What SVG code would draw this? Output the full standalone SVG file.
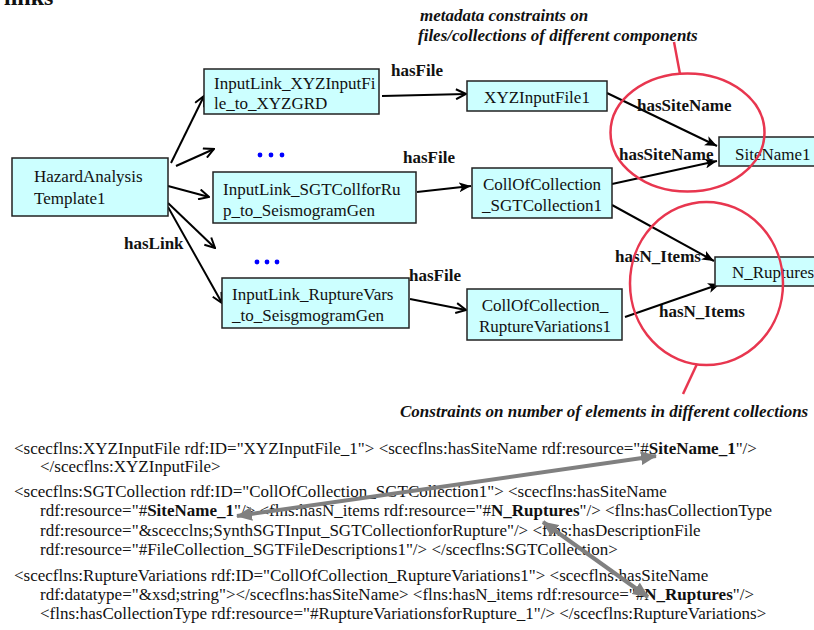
<svg xmlns="http://www.w3.org/2000/svg" width="814" height="630" viewBox="0 0 814 630">
<style>
.box{fill:#CCFFFF;stroke:#222;stroke-width:1.5}
.nt{font-family:"Liberation Serif","Times New Roman",serif;font-size:17px;fill:#111}
.lbl{font-family:"Liberation Serif","Times New Roman",serif;font-size:17px;font-weight:bold;fill:#111}
.ann{font-family:"Liberation Serif","Times New Roman",serif;font-size:17px;font-weight:bold;font-style:italic;fill:#111}
.xml{font-family:"Liberation Serif","Times New Roman",serif;font-size:17px;fill:#111}
.c{stroke:#000;stroke-width:2;fill:none}
.co{stroke:#000;stroke-width:2;fill:none;marker-end:url(#open)}
.cf{stroke:#000;stroke-width:2;fill:none;marker-end:url(#filled)}
.red{stroke:#E8364F;stroke-width:2.5;fill:none}
.gray{stroke:#808080;stroke-width:4;fill:none;marker-start:url(#grayhead);marker-end:url(#grayhead)}
</style>
<defs>
<marker id="open" viewBox="0 0 12 12" refX="11" refY="6" markerWidth="12" markerHeight="12" markerUnits="userSpaceOnUse" orient="auto">
<path d="M1,1 L11,6 L1,11" fill="none" stroke="#000" stroke-width="2"/>
</marker>
<marker id="filled" viewBox="0 0 12 10" refX="12" refY="5" markerWidth="12" markerHeight="10" markerUnits="userSpaceOnUse" orient="auto">
<path d="M0,0 L12,5 L0,10 L3,5 Z" fill="#000"/>
</marker>
<marker id="grayhead" viewBox="0 0 16 14" refX="15" refY="7" markerWidth="16" markerHeight="14" markerUnits="userSpaceOnUse" orient="auto-start-reverse">
<path d="M0,0 L16,7 L0,14 Z" fill="#808080"/>
</marker>
</defs>
<rect width="814" height="630" fill="#fff"/>

<text x="4" y="5" font-family="Liberation Serif, serif" font-size="24" font-weight="bold" fill="#111">links</text>

<g id="connectors">
<line class="co" x1="171" y1="163" x2="204" y2="96"/>
<line class="co" x1="176" y1="166" x2="214" y2="149"/>
<line class="co" x1="168" y1="186" x2="209" y2="197"/>
<line class="co" x1="168" y1="203" x2="215" y2="248"/>
<line class="co" x1="168" y1="207" x2="222" y2="303"/>
<line class="co" x1="382" y1="96" x2="466" y2="94"/>
<line class="cf" x1="417" y1="192" x2="471" y2="186"/>
<line class="co" x1="410" y1="299" x2="466" y2="310"/>
<line class="cf" x1="607" y1="93" x2="717" y2="146"/>
<line class="cf" x1="612" y1="184" x2="717" y2="161"/>
<line class="cf" x1="612" y1="205" x2="714" y2="261"/>
<line class="cf" x1="625" y1="317" x2="720" y2="284"/>
<text class="lbl" x="124" y="249">hasLink</text>
<text class="lbl" x="391" y="76">hasFile</text>
<text class="lbl" x="403" y="163">hasFile</text>
<text class="lbl" x="409" y="281">hasFile</text>
<text class="lbl" x="637" y="111">hasSiteName</text>
<text class="lbl" x="619" y="160">hasSiteName</text>
<text class="lbl" x="615" y="262">hasN_Items</text>
<text class="lbl" x="659" y="317">hasN_Items</text>
</g>

<g id="dots1" fill="#0000FF"><circle cx="260" cy="155" r="2.4"/><circle cx="271" cy="155" r="2.4"/><circle cx="282" cy="155" r="2.4"/></g>
<g id="dots2" fill="#0000FF"><circle cx="257" cy="262" r="2.4"/><circle cx="267" cy="262" r="2.4"/><circle cx="277" cy="262" r="2.4"/></g>

<g id="HazardAnalysisTemplate1">
<rect class="box" x="12" y="158" width="156" height="58"/>
<text class="nt" x="34" y="182">HazardAnalysis</text>
<text class="nt" x="34" y="204">Template1</text>
</g>
<g id="InputLink_XYZ">
<rect class="box" x="204" y="69" width="175" height="45"/>
<text class="nt" x="214" y="89">InputLink_XYZInputFi</text>
<text class="nt" x="214" y="109">le_to_XYZGRD</text>
</g>
<g id="InputLink_SGT">
<rect class="box" x="213" y="172" width="203" height="51"/>
<text class="nt" x="223" y="195">InputLink_SGTCollforRu</text>
<text class="nt" x="223" y="216">p_to_SeismogramGen</text>
</g>
<g id="InputLink_RuptureVars">
<rect class="box" x="222" y="278" width="187" height="50"/>
<text class="nt" x="232" y="300">InputLink_RuptureVars</text>
<text class="nt" x="232" y="321">_to_SeisgmogramGen</text>
</g>
<g id="XYZInputFile1">
<rect class="box" x="467" y="81" width="140" height="30"/>
<text class="nt" x="537" y="103" text-anchor="middle">XYZInputFile1</text>
</g>
<g id="CollOfCollection_SGT">
<rect class="box" x="472" y="168" width="140" height="50"/>
<text class="nt" x="542" y="190" text-anchor="middle">CollOfCollection</text>
<text class="nt" x="542" y="211" text-anchor="middle">_SGTCollection1</text>
</g>
<g id="CollOfCollection_RV">
<rect class="box" x="467" y="289" width="155" height="51"/>
<text class="nt" x="545" y="311" text-anchor="middle">CollOfCollection_</text>
<text class="nt" x="545" y="332" text-anchor="middle">RuptureVariations1</text>
</g>
<g id="SiteName1">
<rect class="box" x="719" y="137" width="100" height="29"/>
<text class="nt" x="735" y="160">SiteName1</text>
</g>
<g id="N_Ruptures">
<rect class="box" x="715" y="257" width="104" height="29"/>
<text class="nt" x="732" y="278">N_Ruptures</text>
</g>

<g id="annotations">
<ellipse class="red" cx="687.5" cy="132.5" rx="77" ry="59"/>
<line class="red" x1="680" y1="74" x2="674" y2="42"/>
<ellipse class="red" cx="706.5" cy="283.5" rx="76.5" ry="81.5"/>
<line class="red" x1="697" y1="364" x2="683" y2="394"/>
<text class="ann" x="420" y="21">metadata constraints on</text>
<text class="ann" x="418" y="41">files/collections of different components</text>
<text class="ann" x="400" y="417">Constraints on number of elements in different collections</text>
</g>

<g id="xml">
<text class="xml" x="14" y="454">&lt;scecflns:XYZInputFile rdf:ID="XYZInputFile_1"&gt; &lt;scecflns:hasSiteName rdf:resource="#<tspan font-weight="bold">SiteName_1</tspan>"/&gt;</text>
<text class="xml" x="40" y="472">&lt;/scecflns:XYZInputFile&gt;</text>
<text class="xml" x="14" y="497">&lt;scecflns:SGTCollection rdf:ID="CollOfCollection_SGTCollection1"&gt; &lt;scecflns:hasSiteName</text>
<text class="xml" x="40" y="516">rdf:resource="#<tspan font-weight="bold">SiteName_1</tspan>"/&gt; &lt;flns:hasN_items rdf:resource="#<tspan font-weight="bold">N_Ruptures</tspan>"/&gt; &lt;flns:hasCollectionType</text>
<text class="xml" x="40" y="536">rdf:resource="&amp;scecclns;SynthSGTInput_SGTCollectionforRupture"/&gt; &lt;flns:hasDescriptionFile</text>
<text class="xml" x="40" y="555">rdf:resource="#FileCollection_SGTFileDescriptions1"/&gt; &lt;/scecflns:SGTCollection&gt;</text>
<text class="xml" x="14" y="581">&lt;scecflns:RuptureVariations rdf:ID="CollOfCollection_RuptureVariations1"&gt; &lt;scecflns:hasSiteName</text>
<text class="xml" x="40" y="600">rdf:datatype="&amp;xsd;string"&gt;&lt;/scecflns:hasSiteName&gt; &lt;flns:hasN_items rdf:resource="#<tspan font-weight="bold">N_Ruptures</tspan>"/&gt;</text>
<text class="xml" x="40" y="619">&lt;flns:hasCollectionType rdf:resource="#RuptureVariationsforRupture_1"/&gt; &lt;/scecflns:RuptureVariations&gt;</text>
</g>

<g id="xml-links">
<line class="gray" x1="237" y1="516" x2="656" y2="456"/>
<line class="gray" x1="543" y1="522" x2="648" y2="597"/>
</g>
</svg>
